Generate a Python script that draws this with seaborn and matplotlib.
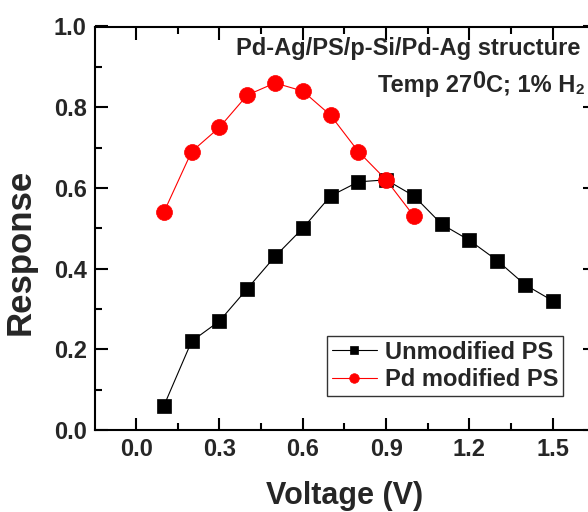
import matplotlib
matplotlib.use("Agg")
import matplotlib.pyplot as plt
import seaborn as sns
from matplotlib.ticker import MultipleLocator

# data
voltage_unmod = [0.1, 0.2, 0.3, 0.4, 0.5, 0.6, 0.7, 0.8, 0.9, 1.0, 1.1, 1.2, 1.3, 1.4, 1.5]
resp_unmod = [0.06, 0.22, 0.27, 0.35, 0.43, 0.50, 0.58, 0.615, 0.62, 0.58, 0.51, 0.47, 0.42, 0.36, 0.32]
voltage_pd = [0.1, 0.2, 0.3, 0.4, 0.5, 0.6, 0.7, 0.8, 0.9, 1.0]
resp_pd = [0.54, 0.69, 0.75, 0.83, 0.86, 0.84, 0.78, 0.69, 0.62, 0.53]

sns.set_style("ticks")
plt.rcParams['font.family'] = ['Liberation Sans', 'DejaVu Sans']
plt.rcParams['font.weight'] = 'bold'

fig = plt.figure(figsize=(5.88, 5.12), dpi=100)
# axes box runs past the right edge, as in the reference
ax = fig.add_axes([95 / 588, 82 / 512, 499.5 / 588, 403.5 / 512])

sns.lineplot(x=voltage_unmod, y=resp_unmod, ax=ax, color='black', marker='s',
             markersize=10.5, mec='black', mew=0.5, linewidth=0.8,
             label='Unmodified PS')
sns.lineplot(x=voltage_pd, y=resp_pd, ax=ax, color='red', marker='o',
             markersize=11.5, mec='red', mew=0.5, linewidth=0.8,
             label='Pd modified PS')

ax.set_xlim(-0.148, 1.65)
ax.set_ylim(0, 1.0)
ax.xaxis.set_major_locator(MultipleLocator(0.3))
ax.xaxis.set_minor_locator(MultipleLocator(0.15))
ax.yaxis.set_major_locator(MultipleLocator(0.2))
ax.yaxis.set_minor_locator(MultipleLocator(0.1))
ax.tick_params(which='both', direction='in', top=True, right=True, width=1.5,
               labelsize=17, pad=6, color='black')
ax.tick_params(which='major', length=9)
ax.tick_params(which='minor', length=5)
for s in ax.spines.values():
    s.set_linewidth(1.5)
    s.set_color('black')

ax.set_xlabel("Voltage (V)", fontsize=22, fontweight='bold', labelpad=14)
ax.set_ylabel("Response", fontsize=25, fontweight='bold')
ax.yaxis.set_label_coords(-0.116, 0.441)

ax.text(0.36, 0.929, "Pd-Ag/PS/p-Si/Pd-Ag structure", fontsize=17,
        fontweight='bold', va='baseline', ha='left')
# second line built in pieces: full-size raised "0", small subscript "2"
t1 = ax.text(0.872, 0.838, "Temp 27", fontsize=17, fontweight='bold',
             va='baseline', ha='left')
t2 = ax.annotate("0", xy=(1, 1), xycoords=t1, xytext=(0, 2.5),
                 textcoords='offset points', fontsize=17, fontweight='bold',
                 va='top', ha='left')
t3 = ax.annotate("C; 1% H", xy=(1, 0), xycoords=t2, xytext=(0, -2.5),
                 textcoords='offset points', fontsize=17, fontweight='bold',
                 va='bottom', ha='left')
ax.annotate("2", xy=(1, 0.3), xycoords=t3, xytext=(0.5, 0),
            textcoords='offset points', fontsize=11, fontweight='bold',
            va='center', ha='left')

leg = ax.legend(loc='lower left', bbox_to_anchor=(327 / 588, 116 / 512),
                bbox_transform=fig.transFigure, borderaxespad=0,
                fontsize=17, frameon=True, fancybox=False, edgecolor='black',
                borderpad=0.2, labelspacing=0.2, handlelength=1.9,
                handletextpad=0.35, markerscale=0.6)
leg.get_frame().set_linewidth(1.0)
for t in leg.get_texts():
    t.set_fontweight('bold')

fig.savefig("out.png", dpi=100)
